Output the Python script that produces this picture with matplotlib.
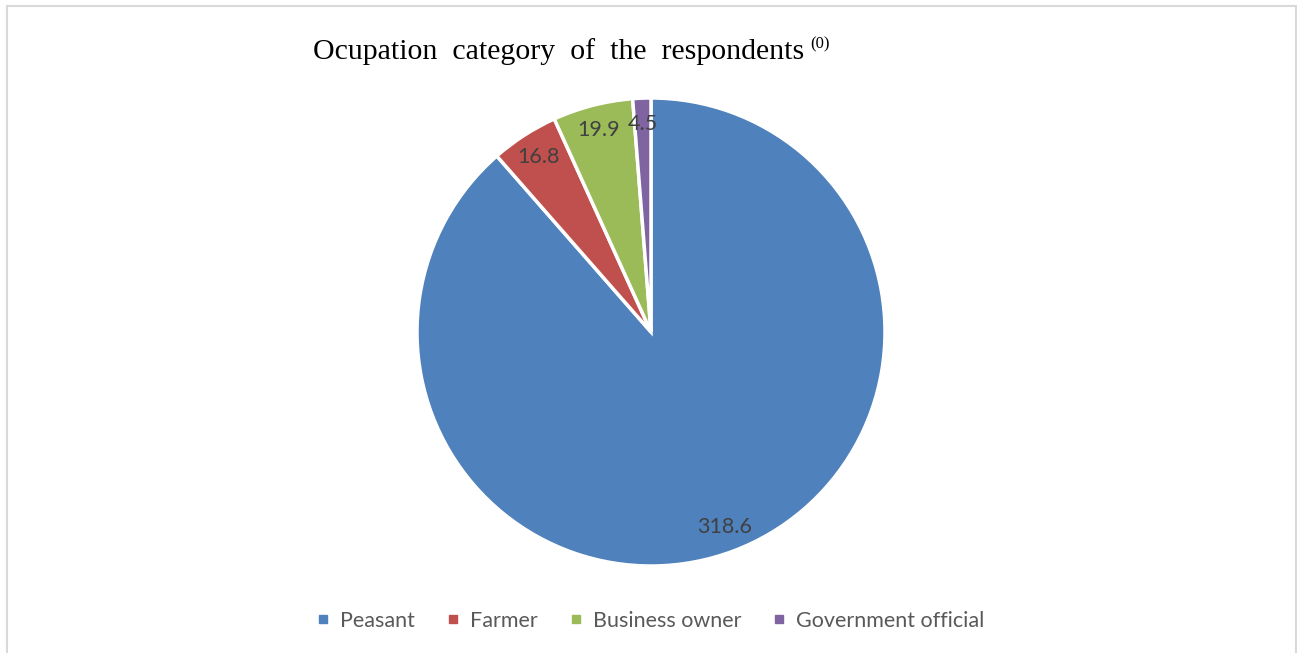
import matplotlib
matplotlib.use("Agg")
import matplotlib.pyplot as plt
from matplotlib.lines import Line2D

categories = ["Peasant", "Farmer", "Business owner", "Government official"]
values = [318.6, 16.8, 19.9, 4.5]
colors = ["#4F81BD", "#C0504D", "#9BBB59", "#8064A2"]

W, H = 1297, 653
fig = plt.figure(figsize=(W / 100, H / 100), dpi=100)

cx, cy, r = 651, 332, 234
ax = fig.add_axes([(cx - r) / W, (H - cy - r) / H, 2 * r / W, 2 * r / H])
wedges, texts = ax.pie(
    values, colors=colors, startangle=90, counterclock=False,
    labels=[f"{v:g}" for v in values], labeldistance=0.89,
    wedgeprops=dict(edgecolor="white", linewidth=2.5),
    textprops=dict(color="#404040", fontsize=15.5, family="Lato",
                   ha="center", va="center"),
)
ax.set_xlim(-1, 1)
ax.set_ylim(-1, 1)
ax.set_aspect("equal")
ax.axis("off")

# Title with superscript
fig.text(313 / W, 1 - 52 / H, "Ocupation  category  of  the  respondents",
         family="Liberation Serif", fontsize=21.5, ha="left", va="center", color="black")
fig.text(810 / W, 1 - 44 / H, "(0)", family="Liberation Serif", fontsize=12,
         ha="left", va="center", color="black")

# Legend
handles = [Line2D([], [], marker="s", linestyle="none", markersize=6,
                  markerfacecolor=c, markeredgecolor=c) for c in colors]
fig.legend(handles, categories, loc="center", bbox_to_anchor=(0.5, 1 - 621 / H),
           ncol=4, frameon=False, handletextpad=0.3, columnspacing=1.25,
           prop=dict(family="Lato", size=15.5), labelcolor="#595959",
           handlelength=1.0)

# Border
bc = "#d9d9d9"
fig.add_artist(Line2D([6.5 / W, 6.5 / W], [0, 1 - 5.5 / H], transform=fig.transFigure, color=bc, lw=1.5))
fig.add_artist(Line2D([6.5 / W, 1295.5 / W], [1 - 5.5 / H, 1 - 5.5 / H], transform=fig.transFigure, color=bc, lw=1.5))
fig.add_artist(Line2D([1295.5 / W, 1295.5 / W], [0, 1 - 5.5 / H], transform=fig.transFigure, color=bc, lw=1.5))

fig.savefig("out.png", dpi=100)
